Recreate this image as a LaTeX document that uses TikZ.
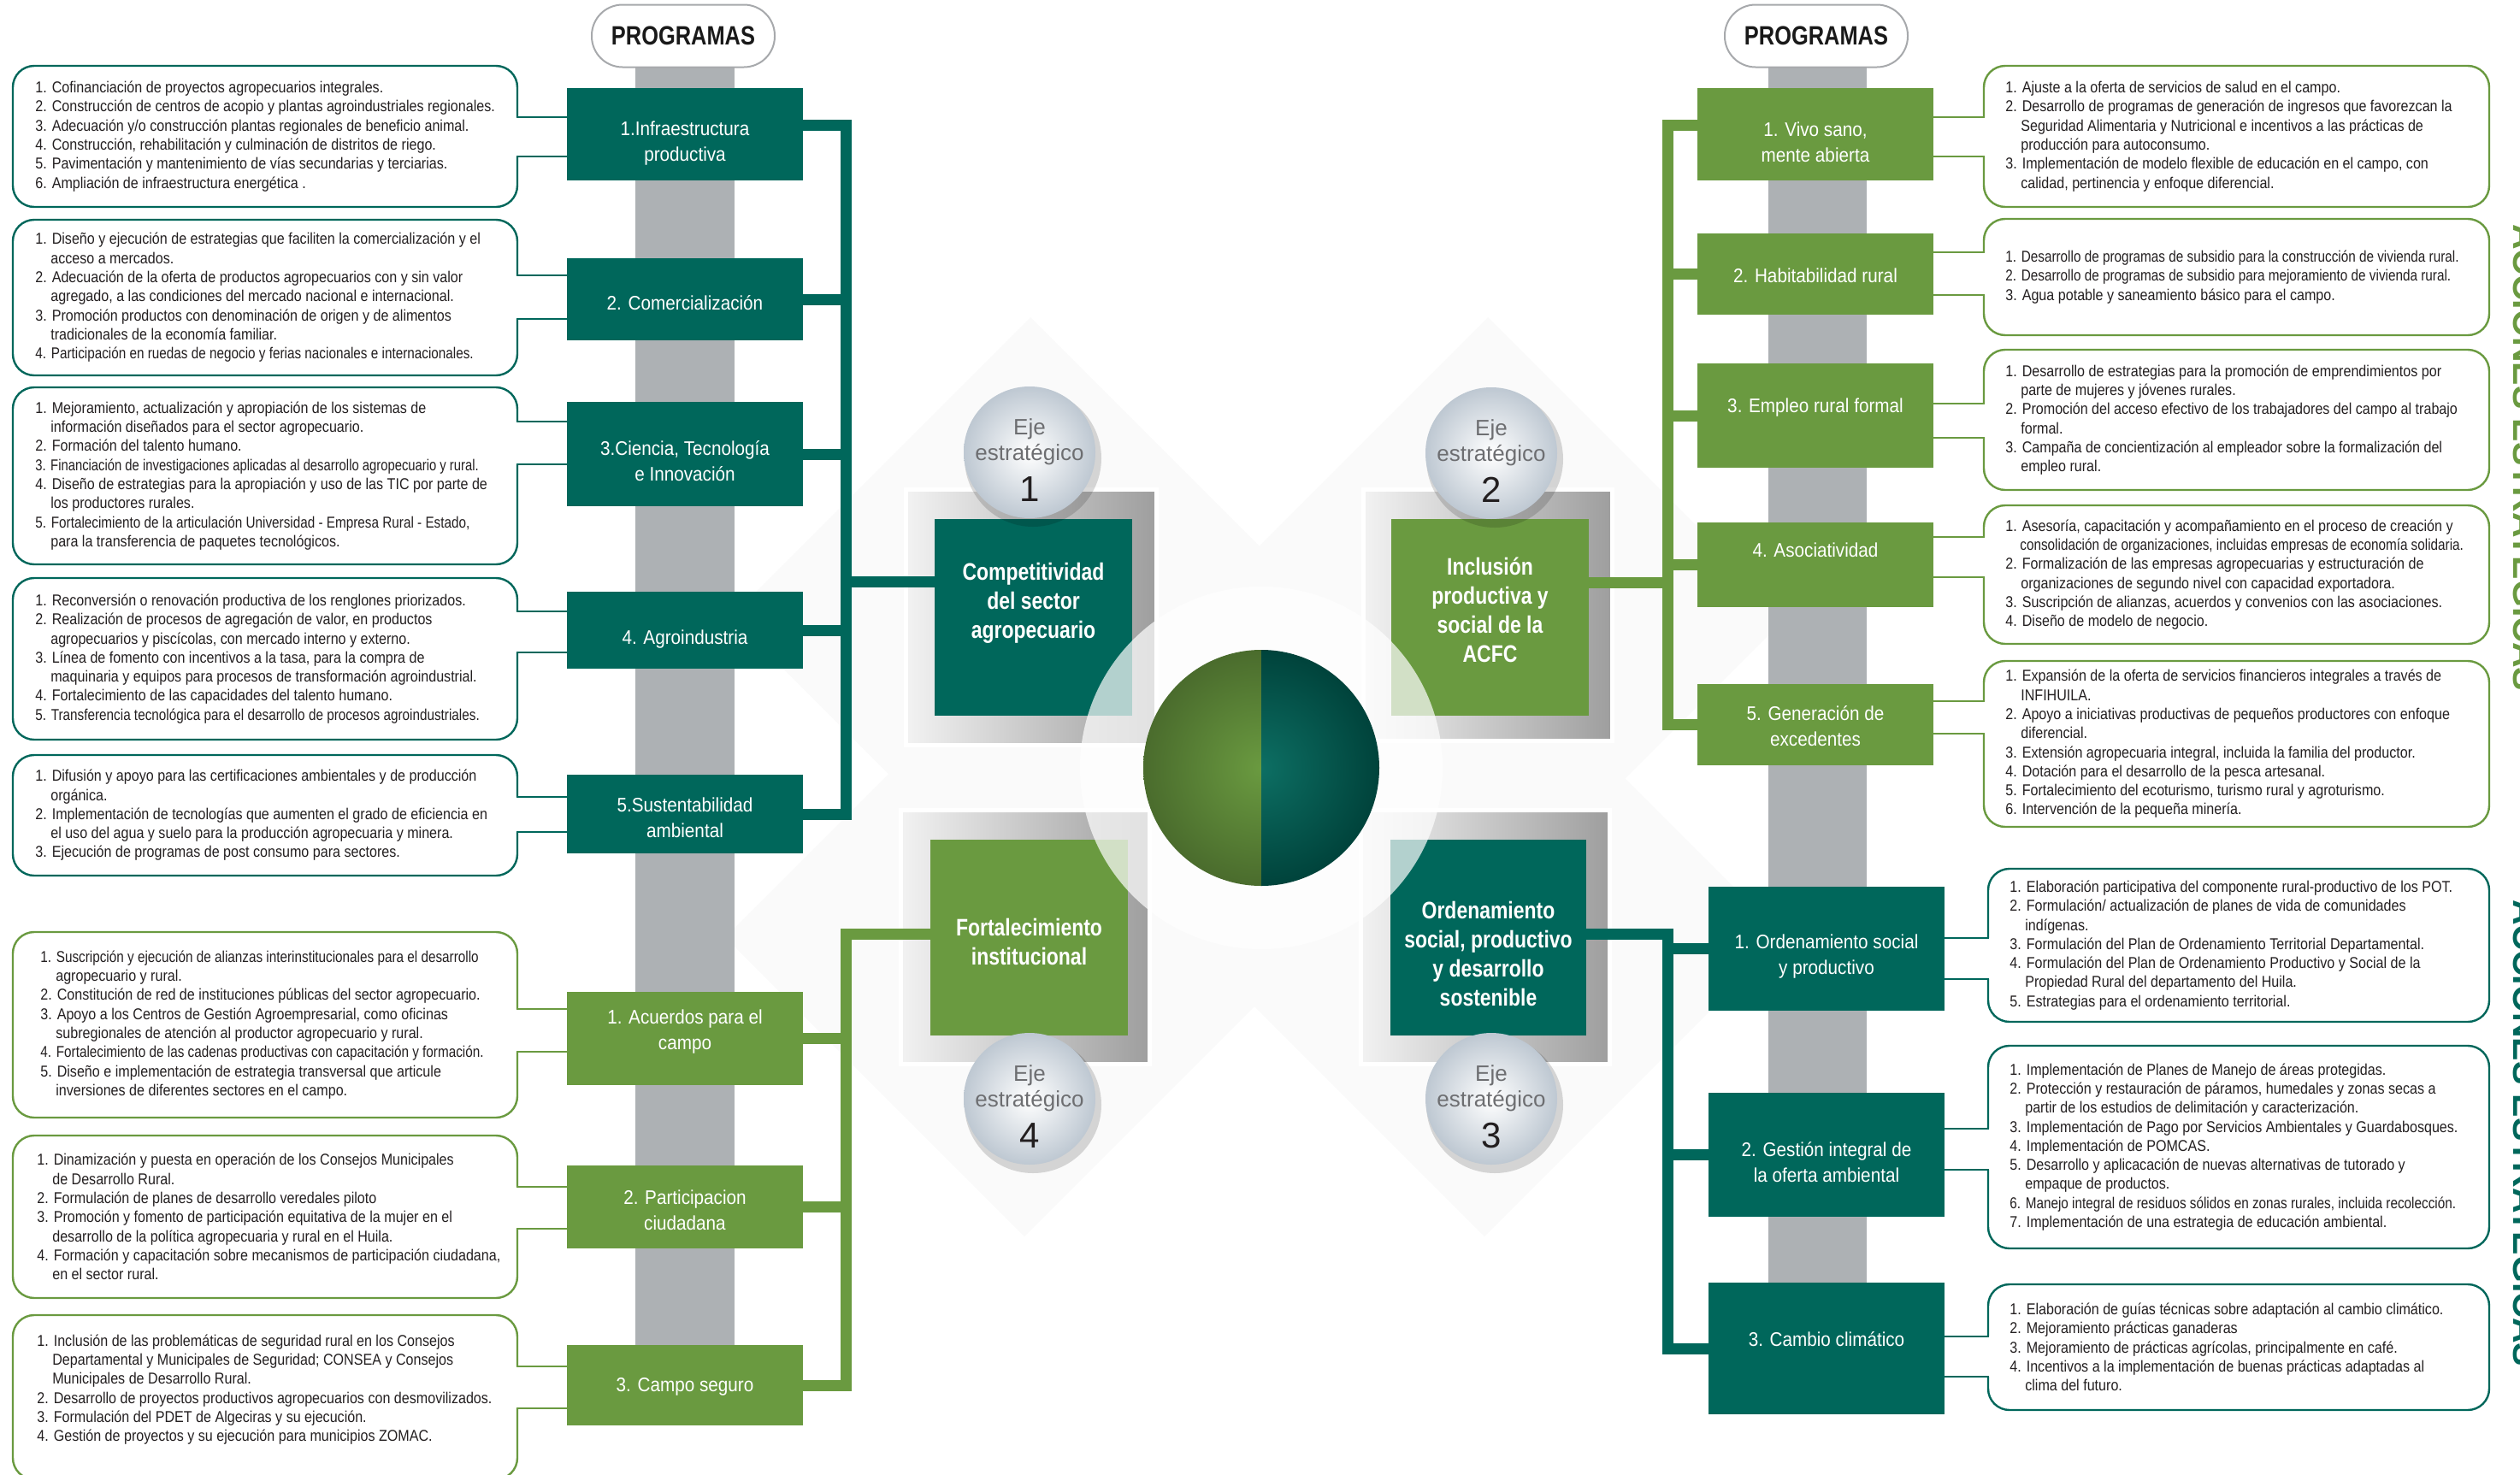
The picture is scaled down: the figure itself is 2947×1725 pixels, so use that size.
\documentclass[tikz,border=0pt]{standalone}
\usepackage{fontspec}
\setmainfont{Liberation Sans}
\newfontfamily\txtf[FakeStretch=0.875]{Liberation Sans}
\newfontfamily\prgf[FakeStretch=0.9]{Liberation Sans}
\newfontfamily\ejef[FakeStretch=0.82]{Liberation Sans}
\definecolor{tealc}{RGB}{0,103,91}
\definecolor{greenc}{RGB}{106,154,64}
\definecolor{barc}{RGB}{173,177,180}
\definecolor{pillc}{RGB}{167,169,172}
\definecolor{ejetxt}{RGB}{109,110,113}
\definecolor{numtxt}{RGB}{35,31,32}
\definecolor{circc}{RGB}{190,200,210}
\definecolor{txtc}{RGB}{35,31,32}
\newcommand\cl{\hphantom{1.\ }}
\newcommand\sq[1]{\scalebox{0.95}[1]{#1}}
\tikzset{
  prog/.style={rectangle, inner sep=0pt, minimum width=138pt},
  progt/.style={inner sep=0pt, text=white, align=center, font=\prgf\fontsize{11.5}{15}\selectfont},
  txt/.style={anchor=west, inner sep=0pt, align=left, text=txtc, font=\txtf\fontsize{9.2}{11.15}\selectfont},
  brk/.style={line width=1.2pt, rounded corners=12.5pt},
  stub/.style={line width=1.2pt, line cap=rect},
  trunk/.style={line width=6.5pt},
  ejebox/.style={rectangle, inner sep=0pt},
  ejelbl/.style={text=white, align=center, font=\ejef\bfseries\fontsize{14}{17}\selectfont},
  ejeframe/.style={draw=white, line width=2.5pt, left color=black!5, right color=black!38},
  ejecirc/.style={circle, inner sep=0pt, minimum size=77pt, inner color=white, outer color=circc},
  ejew/.style={anchor=base, text=ejetxt, font=\fontsize{13}{15}\selectfont},
  ejen/.style={anchor=base, text=numtxt, font=\fontsize{21}{24}\selectfont},
  pill/.style={rectangle, rounded corners=18pt, draw=pillc, line width=1pt, fill=white, minimum width=107pt, minimum height=36.5pt, inner sep=0pt, text=black!90, font=\ejef\bfseries\fontsize{15.5}{18}\selectfont},
  vtxt/.style={rotate=-90, anchor=base, font=\bfseries\fontsize{20.5}{24}\selectfont},
}
% left bracket: #1 prog node, #2 colour, #3 top, #4 bottom, #5 stub1, #6 stub2
\newcommand\lbrk[6]{%
  \draw[brk,#2] (605,#5) -- (605,#3) -- (15,#3) -- (15,#4) -- (605,#4) -- (605,#6);
  \draw[stub,#2] (#1.west |- 0,#5) -- (605,#5);
  \draw[stub,#2] (#1.west |- 0,#6) -- (605,#6);}
% right bracket: #7 left x of box
\newcommand\rbrk[7]{%
  \draw[brk,#2] (#7,#5) -- (#7,#3) -- (2911,#3) -- (2911,#4) -- (#7,#4) -- (#7,#6);
  \draw[stub,#2] (#1.east |- 0,#5) -- (#7,#5);
  \draw[stub,#2] (#1.east |- 0,#6) -- (#7,#6);}
% program box with text: #1 name, #2 colour, #3 x, #4 y, #5 height(pt), #6 text shift (px, down), #7 text
\newcommand\pbox[7]{%
  \node[prog, fill=#2, minimum height=#5pt] (#1) at (#3,#4) {};
  \node[progt] (#1t) at (#3,#4+#6) {#7};}
\begin{document}
\begin{tikzpicture}[x=0.5pt,y=-0.5pt]
\useasboundingbox (0,0) rectangle (2947,1725);
% faint diamonds
\fill[black!2] (1205,371) -- (1555,721) -- (1205,1071) -- (855,721) -- cycle;
\fill[black!2] (1740,371) -- (2090,721) -- (1740,1071) -- (1390,721) -- cycle;
\fill[black!2] (1198,746) -- (1548,1096) -- (1198,1446) -- (848,1096) -- cycle;
\fill[black!2] (1736,746) -- (2086,1096) -- (1736,1446) -- (1386,1096) -- cycle;
% grey bars
\fill[barc] (743,60) rectangle (859,1620);
\fill[barc] (2068,60) rectangle (2183,1577);
\node[pill] (pgl) at (799,42) {PROGRAMAS};
\node[pill] (pgr) at (2124,42) {PROGRAMAS};
% program boxes
\pbox{pl1}{tealc}{801}{157}{54}{11}{1.Infraestructura\\productiva}
\pbox{pl2}{tealc}{801}{350}{48}{4}{2. Comercialización}
\pbox{pl3}{tealc}{801}{531}{61}{8}{3.Ciencia, Tecnología\\e Innovación}
\pbox{pl4}{tealc}{801}{737}{45}{11}{4. Agroindustria}
\pbox{pl5}{tealc}{801}{952}{46}{4}{5.Sustentabilidad\\ambiental}
\pbox{pl6}{greenc}{801}{1214.5}{54.5}{-8}{1. Acuerdos para el\\campo}
\pbox{pl7}{greenc}{801}{1411.5}{48.5}{4}{2. Participacion\\ciudadana}
\pbox{pl8}{greenc}{801}{1620}{47}{2}{3. Campo seguro}
\pbox{pr1}{greenc}{2123}{157}{54}{9}{1. Vivo sano,\\mente abierta}
\pbox{pr2}{greenc}{2123}{320.5}{47.5}{2}{2. Habitabilidad rural}
\pbox{pr3}{greenc}{2123}{486}{61}{-9}{3. Empleo rural formal}
\pbox{pr4}{greenc}{2123}{660.5}{49.5}{-17}{4. Asociatividad}
\pbox{pr5}{greenc}{2123}{847.5}{47.5}{2}{5. Generación de\\excedentes}
\pbox{pr6}{tealc}{2136}{1109.5}{72.5}{9}{1. Ordenamiento social\\y productivo}
\pbox{pr7}{tealc}{2136}{1350.5}{72.5}{9}{2. Gestión integral de\\la oferta ambiental}
\pbox{pr8}{tealc}{2136}{1577}{77}{-11}{3. Cambio climático}
% brackets (left)
\lbrk{pl1}{tealc}{77}{242}{137}{183}
\lbrk{pl2}{tealc}{257}{439}{322}{373}
\lbrk{pl3}{tealc}{453}{660}{493}{543}
\lbrk{pl4}{tealc}{676}{865}{715}{763}
\lbrk{pl5}{tealc}{883}{1024}{932}{973}
\lbrk{pl6}{greenc}{1090}{1307}{1180}{1230}
\lbrk{pl7}{greenc}{1328}{1518}{1388}{1437}
\lbrk{pl8}{greenc}{1538}{1730}{1598}{1647}
% brackets (right)
\rbrk{pr1}{greenc}{77}{242}{137}{183}{2320}
\rbrk{pr2}{greenc}{256}{392}{295}{345}{2320}
\rbrk{pr3}{greenc}{409}{573}{472}{512}{2320}
\rbrk{pr4}{greenc}{591}{753}{628}{675}{2320}
\rbrk{pr5}{greenc}{773}{967}{820}{858}{2320}
\rbrk{pr6}{tealc}{1016}{1195}{1097}{1145}{2325}
\rbrk{pr7}{tealc}{1223}{1460}{1320}{1368}{2325}
\rbrk{pr8}{tealc}{1502}{1649}{1563}{1610}{2325}
% texts left
\node[txt] (t1) at (41,159.5) {1. Cofinanciación de proyectos agropecuarios integrales.\\2. Construcción de centros de acopio y plantas agroindustriales regionales.\\3. Adecuación y/o construcción plantas regionales de beneficio animal.\\4. Construcción, rehabilitación y culminación de distritos de riego.\\5. Pavimentación y mantenimiento de vías secundarias y terciarias.\\6. Ampliación de infraestructura energética .};
\node[txt] (t2) at (41,348) {1. Diseño y ejecución de estrategias que faciliten la comercialización y el\\\cl acceso a mercados.\\2. Adecuación de la oferta de productos agropecuarios con y sin valor\\\cl agregado, a las condiciones del mercado nacional e internacional.\\3. Promoción productos con denominación de origen y de alimentos\\\cl tradicionales de la economía familiar.\\\sq{4. Participación en ruedas de negocio y ferias nacionales e internacionales.}};
\node[txt] (t3) at (41,556.5) {1. Mejoramiento, actualización y apropiación de los sistemas de\\\cl información diseñados para el sector agropecuario.\\2. Formación del talento humano.\\\scalebox{0.92}[1]{3. Financiación de investigaciones aplicadas al desarrollo agropecuario y rural.}\\4. Diseño de estrategias para la apropiación y uso de las TIC por parte de\\\cl los productores rurales.\\\sq{5. Fortalecimiento de la articulación Universidad - Empresa Rural - Estado,}\\\cl para la transferencia de paquetes tecnológicos.};
\node[txt] (t4) at (41,770.5) {1. Reconversión o renovación productiva de los renglones priorizados.\\2. Realización de procesos de agregación de valor, en productos\\\cl agropecuarios y piscícolas, con mercado interno y externo.\\3. Línea de fomento con incentivos a la tasa, para la compra de\\\cl maquinaria y equipos para procesos de transformación agroindustrial.\\4. Fortalecimiento de las capacidades del talento humano.\\\sq{5. Transferencia tecnológica para el desarrollo de procesos agroindustriales.}};
\node[txt] (t5) at (41,953.5) {1. Difusión y apoyo para las certificaciones ambientales y de producción\\\cl orgánica.\\2. Implementación de tecnologías que aumenten el grado de eficiencia en\\\cl el uso del agua y suelo para la producción agropecuaria y minera.\\3. Ejecución de programas de post consumo para sectores.};
\node[txt] (t6) at (47,1198.5) {\sq{1. Suscripción y ejecución de alianzas interinstitucionales para el desarrollo}\\\cl agropecuario y rural.\\2. Constitución de red de instituciones públicas del sector agropecuario.\\3. Apoyo a los Centros de Gestión Agroempresarial, como oficinas\\\cl subregionales de atención al productor agropecuario y rural.\\\sq{4. Fortalecimiento de las cadenas productivas con capacitación y formación.}\\5. Diseño e implementación de estrategia transversal que articule\\\cl inversiones de diferentes sectores en el campo.};
\node[txt] (t7) at (43,1423) {1. Dinamización y puesta en operación de los Consejos Municipales\\\cl de Desarrollo Rural.\\2. Formulación de planes de desarrollo veredales piloto\\3. Promoción y fomento de participación equitativa de la mujer en el\\\cl desarrollo de la política agropecuaria y rural en el Huila.\\4. Formación y capacitación sobre mecanismos de participación ciudadana,\\\cl en el sector rural.};
\node[txt] (t8) at (43,1625) {1. Inclusión de las problemáticas de seguridad rural en los Consejos\\\cl Departamental y Municipales de Seguridad; CONSEA y Consejos\\\cl Municipales de Desarrollo Rural.\\2. Desarrollo de proyectos productivos agropecuarios con desmovilizados.\\3. Formulación del PDET de Algeciras y su ejecución.\\4. Gestión de proyectos y su ejecución para municipios ZOMAC.};
% texts right
\node[txt] (r1) at (2345,159.5) {1. Ajuste a la oferta de servicios de salud en el campo.\\2. Desarrollo de programas de generación de ingresos que favorezcan la\\\cl Seguridad Alimentaria y Nutricional e incentivos a las prácticas de\\\cl producción para autoconsumo.\\3. Implementación de modelo flexible de educación en el campo, con\\\cl calidad, pertinencia y enfoque diferencial.};
\node[txt] (r2) at (2345,324) {\sq{1. Desarrollo de programas de subsidio para la construcción de vivienda rural.}\\\sq{2. Desarrollo de programas de subsidio para mejoramiento de vivienda rural.}\\3. Agua potable y saneamiento básico para el campo.};
\node[txt] (r3) at (2345,491) {1. Desarrollo de estrategias para la promoción de emprendimientos por\\\cl parte de mujeres y jóvenes rurales.\\2. Promoción del acceso efectivo de los trabajadores del campo al trabajo\\\cl formal.\\3. Campaña de concientización al empleador sobre la formalización del\\\cl empleo rural.};
\node[txt] (r4) at (2345,672) {1. Asesoría, capacitación y acompañamiento en el proceso de creación y\\\sq{\cl consolidación de organizaciones, incluidas empresas de economía solidaria.}\\2. Formalización de las empresas agropecuarias y estructuración de\\\cl organizaciones de segundo nivel con capacidad exportadora.\\3. Suscripción de alianzas, acuerdos y convenios con las asociaciones.\\4. Diseño de modelo de negocio.};
\node[txt] (r5) at (2345,870) {1. Expansión de la oferta de servicios financieros integrales a través de\\\cl INFIHUILA.\\2. Apoyo a iniciativas productivas de pequeños productores con enfoque\\\cl diferencial.\\3. Extensión agropecuaria integral, incluida la familia del productor.\\4. Dotación para el desarrollo de la pesca artesanal.\\5. Fortalecimiento del ecoturismo, turismo rural y agroturismo.\\6. Intervención de la pequeña minería.};
\node[txt] (r6) at (2350,1105.5) {1. Elaboración participativa del componente rural-productivo de los POT.\\2. Formulación/ actualización de planes de vida de comunidades\\\cl indígenas.\\3. Formulación del Plan de Ordenamiento Territorial Departamental.\\4. Formulación del Plan de Ordenamiento Productivo y Social de la\\\cl Propiedad Rural del departamento del Huila.\\5. Estrategias para el ordenamiento territorial.};
\node[txt] (r7) at (2350,1341.5) {1. Implementación de Planes de Manejo de áreas protegidas.\\2. Protección y restauración de páramos, humedales y zonas secas a\\\cl partir de los estudios de delimitación y caracterización.\\3. Implementación de Pago por Servicios Ambientales y Guardabosques.\\4. Implementación de POMCAS.\\5. Desarrollo y aplicacación de nuevas alternativas de tutorado y\\\cl empaque de productos.\\\sq{6. Manejo integral de residuos sólidos en zonas rurales, incluida recolección.}\\7. Implementación de una estrategia de educación ambiental.};
\node[txt] (r8) at (2350,1575.5) {1. Elaboración de guías técnicas sobre adaptación al cambio climático.\\2. Mejoramiento prácticas ganaderas\\3. Mejoramiento de prácticas agrícolas, principalmente en café.\\4. Incentivos a la implementación de buenas prácticas adaptadas al\\\cl clima del futuro.};
% eje frames and boxes
\path[ejeframe] (1059,572) rectangle (1352,871);
\path[ejeframe] (1594,572) rectangle (1885,866);
\path[ejeframe] (1053,947) rectangle (1344,1244);
\path[ejeframe] (1591,947) rectangle (1882,1244);
\node[ejebox, fill=tealc, minimum width=115.5pt, minimum height=115pt] (e1) at (1208.5,722) {};
\node[ejebox, fill=greenc, minimum width=115.5pt, minimum height=115pt] (e2) at (1742.5,722) {};
\node[ejebox, fill=tealc, minimum width=114.5pt, minimum height=114.5pt] (e3) at (1740.5,1096.5) {};
\node[ejebox, fill=greenc, minimum width=115.5pt, minimum height=114.5pt] (e4) at (1203.5,1096.5) {};
% trunks
\coordinate (xl) at (989,0);
\coordinate (xr) at (1950,0);
\draw[trunk,tealc] (pl1.east |- 0,146) -| (xl |- pl5.east) -- (pl5.east);
\foreach \n in {2,3,4} \draw[trunk,tealc] (pl\n.east) -- (xl |- pl\n.east);
\draw[trunk,tealc] (e1.west |- 0,680) -- (xl |- 0,680);
\draw[trunk,greenc] (e4.west |- 0,1092) -| (xl |- pl8.east) -- (pl8.east);
\foreach \n in {6,7} \draw[trunk,greenc] (pl\n.east) -- (xl |- pl\n.east);
\draw[trunk,greenc] (pr1.west |- 0,146) -| (xr |- pr5.west) -- (pr5.west);
\foreach \n in {2,3,4} \draw[trunk,greenc] (pr\n.west) -- (xr |- pr\n.west);
\draw[trunk,greenc] (e2.east |- 0,681) -- (xr |- 0,681);
\draw[trunk,tealc] (e3.east |- 0,1092) -| (xr |- pr8.west) -- (pr8.west);
\foreach \n in {6,7} \draw[trunk,tealc] (pr\n.west) -- (xr |- pr\n.west);
% halo and hub
\fill[white, opacity=0.7] (1475,898) circle (212);
\begin{scope}
  \clip (1300,740) rectangle (1475,1060);
  \shade[inner color=greenc, outer color=greenc!70!black] (1475,898) circle (138);
\end{scope}
\begin{scope}
  \clip (1475,740) rectangle (1650,1060);
  \shade[inner color=tealc!95!white, outer color=tealc!65!black] (1475,898) circle (138);
\end{scope}
\node[circle, minimum size=138pt, inner sep=0pt] (hub) at (1475,898) {};
% eje circles
\fill[black, opacity=0.15] (1208,536) circle (80);
\fill[black, opacity=0.15] (1748,537) circle (80);
\fill[black, opacity=0.15] (1748,1292) circle (80);
\fill[black, opacity=0.15] (1208,1292) circle (80);
\node[ejecirc] (k1) at (1204,529) {};
\node[ejecirc] (k2) at (1744,530) {};
\node[ejecirc] (k3) at (1744,1285) {};
\node[ejecirc] (k4) at (1204,1285) {};
\node[ejew] (k1a) at (1204,508) {Eje};
\node[ejew] (k1b) at (1204,538) {estratégico};
\node[ejen] (k1c) at (1204,586) {1};
\node[ejew] (k2a) at (1744,509) {Eje};
\node[ejew] (k2b) at (1744,539) {estratégico};
\node[ejen] (k2c) at (1744,587) {2};
\node[ejew] (k3a) at (1744,1264) {Eje};
\node[ejew] (k3b) at (1744,1294) {estratégico};
\node[ejen] (k3c) at (1744,1342) {3};
\node[ejew] (k4a) at (1204,1264) {Eje};
\node[ejew] (k4b) at (1204,1294) {estratégico};
\node[ejen] (k4c) at (1204,1342) {4};
% eje labels
\node[ejelbl] (l1) at (1208.5,705) {Competitividad\\del sector\\agropecuario};
\node[ejelbl] (l2) at (1742.5,713) {Inclusión\\productiva y\\social de la\\ACFC};
\node[ejelbl] (l3) at (1740.5,1115) {Ordenamiento\\social, productivo\\y desarrollo\\sostenible};
\node[ejelbl] (l4) at (1203.5,1101) {Fortalecimiento\\institucional};
% side labels
\node[vtxt, text=greenc] (acc1) at (2939,535) {ACCIONES ESTRATEGICAS};
\node[vtxt, text=tealc] (acc2) at (2939,1325) {ACCIONES ESTRATEGICAS};
\end{tikzpicture}
\end{document}
